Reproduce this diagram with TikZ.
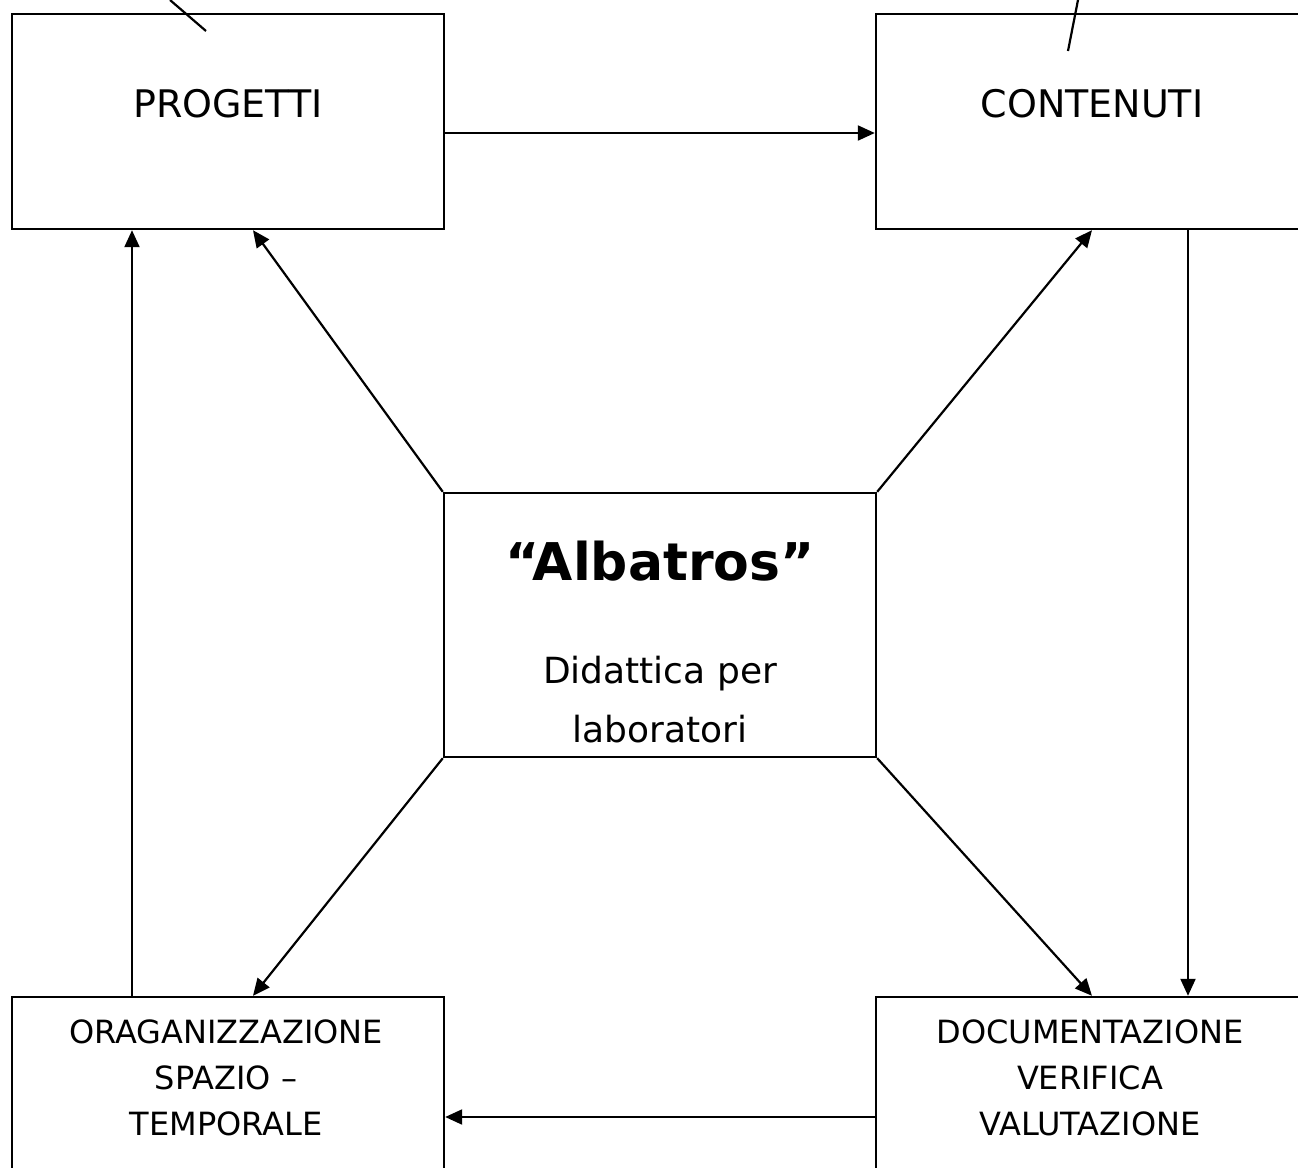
\documentclass[tikz,border=0pt]{standalone}
\usepackage{fontspec}
\setmainfont{DejaVu Sans}
\usetikzlibrary{arrows.meta,positioning}
\tikzset{
  box/.style={draw,line width=1.2pt,minimum width=216pt,minimum height=107.5pt,inner sep=0pt},
  lbl/.style={anchor=base,align=center,inner sep=0pt},
  link/.style={line width=1.1pt,-{Triangle[length=8.5pt,width=7.5pt]}},
  tick/.style={line width=1.1pt}
}
\begin{document}
\begin{tikzpicture}[x=0.5pt,y=-0.5pt]
  \useasboundingbox (0,0) rectangle (1298,1168);
  % boxes
  \node[box] (prog) at (228,121.5) {};
  \node[box] (cont) at (1092,121.5) {};
  \node[box,minimum height=132pt] (albo) at (660,625) {};
  \node[box] (orga) at (228,1104.5) {};
  \node[box] (docu) at (1092,1104.5) {};
  % texts (base = last line)
  \node[lbl,font=\fontsize{19}{23}\selectfont] (progtxt) at (228,117) {PROGETTI};
  \node[lbl,font=\fontsize{19}{23}\selectfont] (conttxt) at (1092,117) {CONTENUTI};
  \node[lbl,font=\bfseries\fontsize{26}{30}\selectfont] (albtxt) at (660,580) {“Albatros”};
  \node[lbl,font=\fontsize{18}{29.5}\selectfont] (didtxt) at (660,742) {Didattica per\\laboratori};
  \node[lbl,font=\fontsize{16}{23}\selectfont] (orgtxt) at (226,1135) {ORAGANIZZAZIONE\\SPAZIO –\\TEMPORALE};
  \node[lbl,font=\fontsize{16}{23}\selectfont] (doctxt) at (1090,1135) {DOCUMENTAZIONE\\VERIFICA\\VALUTAZIONE};
  % little strokes at the top
  \coordinate (progin) at (206,31);
  \coordinate (progout) at (170,0);
  \coordinate (contin) at (1068,51);
  \coordinate (contout) at (1078,0);
  \draw[tick] (progin) -- (progout);
  \draw[tick] (contin) -- (contout);
  % connectors
  \draw[link] ([yshift=-5.75pt]prog.east) -- ([yshift=-5.75pt]cont.west);
  \draw[link] (orga.north -| 132,0) -- (prog.south -| 132,0);
  \draw[link] (albo.north west) -- (prog.south -| 253,0);
  \draw[link] (albo.north east) -- (cont.south);
  \draw[link] (albo.south west) -- (orga.north -| 253,0);
  \draw[link] (albo.south east) -- (docu.north);
  \draw[link] (cont.south -| 1188,0) -- (docu.north -| 1188,0);
  \draw[link] ([yshift=-6.25pt]docu.west) -- ([yshift=-6.25pt]orga.east);
\end{tikzpicture}
\end{document}
